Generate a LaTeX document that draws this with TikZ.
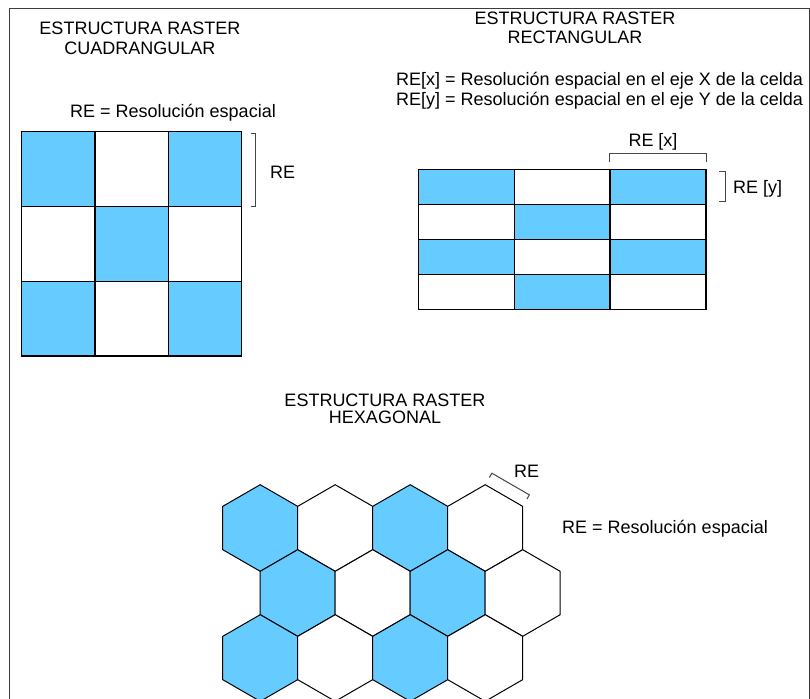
\documentclass[tikz,border=0pt]{standalone}
\usepackage{fontspec}
\setmainfont{Liberation Sans}
\usetikzlibrary{calc}
\definecolor{cellblue}{RGB}{102,204,255}
\definecolor{framegray}{RGB}{60,60,60}
\definecolor{bracketgray}{RGB}{70,70,70}
\begin{document}
\begin{tikzpicture}[x=1pt,y=-1pt,
  lbl/.style={inner sep=0pt, font=\fontsize{18}{20}\selectfont},
  cellline/.style={draw=black, line width=1.3pt},
  hexline/.style={draw=black, line width=1pt, line join=miter},
  bracket/.style={draw=bracketgray, line width=1pt},
  frameline/.style={draw=framegray, line width=1pt}]
\useasboundingbox (0,0) rectangle (810,698);
\fill[white] (0,0) rectangle (810,698);
\clip (0,0) rectangle (810,698);

% outer frame (open at the bottom)
\draw[frameline] (9,700) -- (9,8.5) -- (809,8.5) -- (809,700);

% ---------- square raster ----------
\node[lbl, anchor=base] (sqtitleA) at (140,34.3) {ESTRUCTURA RASTER};
\node[lbl, anchor=base] (sqtitleB) at (140,55) {CUADRANGULAR};
\node[lbl, anchor=base] (sqlegend) at (173,117.3) {RE = Resolución espacial};

\foreach \c/\r in {0/0,2/0,1/1,0/2,2/2}
  \fill[cellblue] ({21.7+73.33*\c},{131.7+74.77*\r}) rectangle ++(73.33,74.77);
\draw[cellline] (21.7,131.7) rectangle (241.7,356);
\foreach \i in {1,2} {
  \draw[cellline] ({21.7+73.33*\i},131.7) -- ++(0,224.3);
  \draw[cellline] (21.7,{131.7+74.77*\i}) -- ++(220,0);
}

\coordinate (sqbA) at (255.7,133.3);
\coordinate (sqbB) at (255.7,206.7);
\draw[bracket] ($(sqbA)+(-4.7,0)$) -- (sqbA) -- (sqbB) -- ($(sqbB)+(-4.7,0)$);
\node[lbl, anchor=base west] (sqre) at (270,178.3) {RE};

% ---------- rectangular raster ----------
\node[lbl, anchor=base] (rctitleA) at (575,25) {ESTRUCTURA RASTER};
\node[lbl, anchor=base] (rctitleB) at (575,43.3) {RECTANGULAR};
\node[lbl, anchor=base west] (rclegendA) at (396,85.5) {RE[x] = Resolución espacial en el eje X de la celda};
\node[lbl, anchor=base west] (rclegendB) at (396,106) {RE[y] = Resolución espacial en el eje Y de la celda};

\foreach \c/\r in {0/0,2/0,1/1,0/2,2/2,1/3}
  \fill[cellblue] ({418.3+95.9*\c},{169.3+35*\r}) rectangle ++(95.9,35);
\draw[cellline] (418.3,169.3) rectangle (706,309.3);
\foreach \i in {1,2}
  \draw[cellline] ({418.3+95.9*\i},169.3) -- ++(0,140);
\foreach \i in {1,2,3}
  \draw[cellline] (418.3,{169.3+35*\i}) -- ++(287.7,0);

\coordinate (rxA) at (609,153.3);
\coordinate (rxB) at (706,153.3);
\draw[bracket] ($(rxA)+(0,8.4)$) -- (rxA) -- (rxB) -- ($(rxB)+(0,8.4)$);
\node[lbl, anchor=base] (rxlabel) at (653,146.7) {RE [x]};

\coordinate (ryA) at (725,171.7);
\coordinate (ryB) at (725,201.7);
\draw[bracket] ($(ryA)+(-5.7,0)$) -- (ryA) -- (ryB) -- ($(ryB)+(-5.7,0)$);
\node[lbl, anchor=base west] (rylabel) at (733,193) {RE [y]};

% ---------- hexagonal raster ----------
\node[lbl, anchor=base] (hxtitleA) at (385,406) {ESTRUCTURA RASTER};
\node[lbl, anchor=base] (hxtitleB) at (385,423.3) {HEXAGONAL};

\foreach \r/\dx in {0/0,1/37.5,2/0}
  \foreach \c in {0,...,3} {
    \pgfmathsetmacro\cx{260.2+75*\c+\dx}
    \pgfmathsetmacro\cy{528+65*\r}
    \pgfmathtruncatemacro\isblue{mod(\c+1,2)}
    \ifnum\isblue=1 \def\hexfill{cellblue}\else\def\hexfill{white}\fi
    \filldraw[hexline, fill=\hexfill] (\cx,\cy) ++(0,-43.3) -- ++(37.5,21.65)
      -- ++(0,43.3) -- ++(-37.5,21.65) -- ++(-37.5,-21.65) -- ++(0,-43.3) -- cycle;
  }

\coordinate (hxbA) at (491.85,473.2);
\coordinate (hxbB) at (529.35,494.85);
\draw[bracket] ($(hxbA)+(-2.5,4.33)$) -- (hxbA) -- (hxbB) -- ($(hxbB)+(-2.5,4.33)$);
\node[lbl, anchor=base west] (hxre) at (514,477.7) {RE};
\node[lbl, anchor=base west] (hxlegend) at (562,533.5) {RE = Resolución espacial};
\end{tikzpicture}
\end{document}
